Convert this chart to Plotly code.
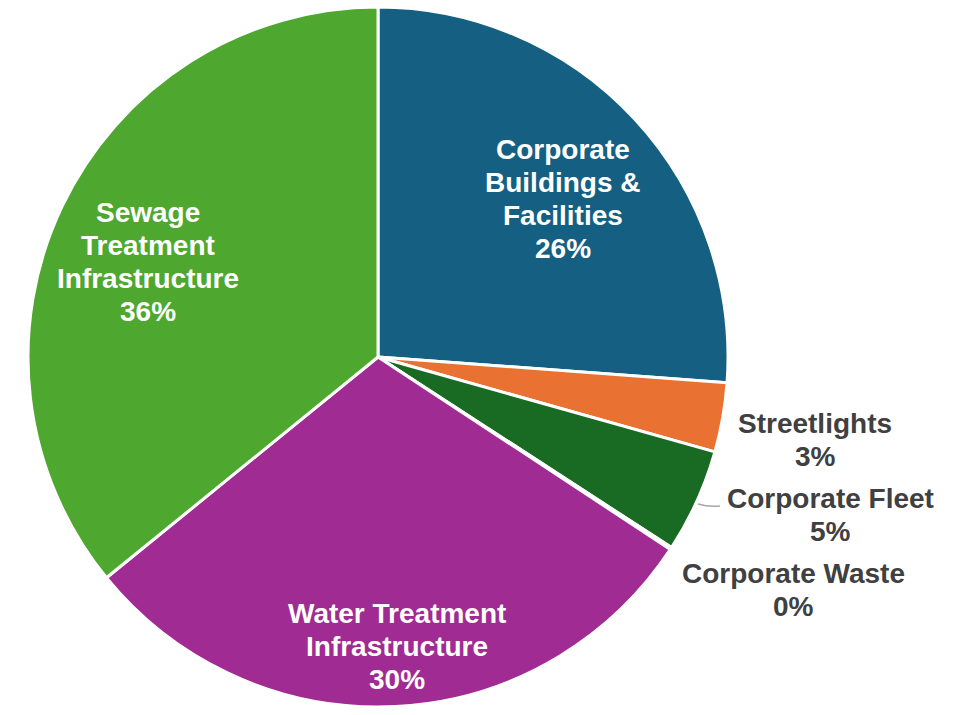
import plotly.graph_objects as go

# Share of corporate emissions by source (percent)
categories = [
    "Corporate Buildings & Facilities",
    "Streetlights",
    "Corporate Fleet",
    "Corporate Waste",
    "Water Treatment Infrastructure",
    "Sewage Treatment Infrastructure",
]
values = [26.2, 3.2, 4.8, 0.1, 29.9, 35.9]
# Line-broken versions of the category names used in the labels
label_lines = [
    ["Corporate", "Buildings &", "Facilities"],
    ["Streetlights"],
    ["Corporate Fleet"],
    ["Corporate Waste"],
    ["Water Treatment", "Infrastructure"],
    ["Sewage", "Treatment", "Infrastructure"],
]
colors = ["#156082", "#E97132", "#196B24", "#0F9ED5", "#A02B93", "#4EA72E"]

W, H = 963, 715
cx, cy, r = 378, 357, 350  # pie centre and radius in pixels
LINE_GAP = 33               # pixels between label lines

fig = go.Figure(
    go.Pie(
        labels=categories,
        values=values,
        sort=False,
        direction="clockwise",
        rotation=0,
        marker=dict(colors=colors, line=dict(color="white", width=3)),
        textinfo="none",
        hoverinfo="label+percent",
        showlegend=False,
        domain=dict(
            x=[(cx - r) / W, (cx + r) / W],
            y=[1 - (cy + r) / H, 1 - (cy - r) / H],
        ),
    )
)

total = sum(values)
# label block centre (pixels), text colour
label_pos = [
    (563, 199, "white"),
    (815, 440, "#404040"),
    (830, 515, "#404040"),
    (793, 590, "#404040"),
    (397, 646, "white"),
    (148, 262, "white"),
]
for lines, v, (px, py, col) in zip(label_lines, values, label_pos):
    rows = lines + [f"{round(v / total * 100)}%"]
    n = len(rows)
    for i, row in enumerate(rows):
        y_px = py + (i - (n - 1) / 2) * LINE_GAP
        fig.add_annotation(
            x=px / W,
            y=1 - y_px / H,
            xref="paper",
            yref="paper",
            xanchor="center",
            yanchor="middle",
            showarrow=False,
            text=row,
            font=dict(family="Liberation Sans, Arial, sans-serif", size=28,
                      color=col, weight="bold"),
        )

# leader line for the Corporate Fleet label
fig.add_shape(
    type="path",
    xref="paper",
    yref="paper",
    path=f"M {698 / W},{1 - 504 / H} Q {708 / W},{1 - 507 / H} {720 / W},{1 - 506 / H}",
    line=dict(color="#A6A6A6", width=1.5),
)

fig.update_layout(
    width=W,
    height=H,
    margin=dict(l=0, r=0, t=0, b=0),
    paper_bgcolor="white",
    plot_bgcolor="white",
)

fig.write_html("out.html")
